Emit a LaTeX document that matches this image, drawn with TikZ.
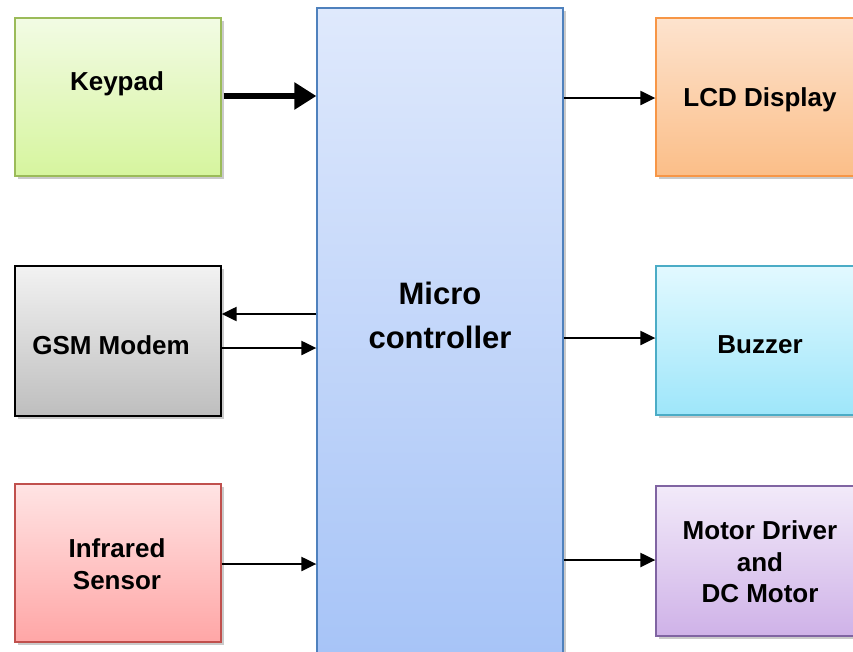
\documentclass[tikz,border=0pt]{standalone}
\usepackage{fontspec}
\setmainfont{Liberation Sans}
\usetikzlibrary{arrows.meta,shadows,calc}

\definecolor{kpTop}{HTML}{F2FBE4}
\definecolor{kpBot}{HTML}{D6F59E}
\definecolor{kpLine}{HTML}{9BBB59}
\definecolor{mcTop}{HTML}{DFE9FC}
\definecolor{mcBot}{HTML}{A4C2F7}
\definecolor{mcLine}{HTML}{4F81BD}
\definecolor{lcdTop}{HTML}{FDE3CE}
\definecolor{lcdBot}{HTML}{FBBE88}
\definecolor{lcdLine}{HTML}{F79646}
\definecolor{gsmTop}{HTML}{F2F2F2}
\definecolor{gsmBot}{HTML}{BEBEBE}
\definecolor{bzTop}{HTML}{E2F9FF}
\definecolor{bzBot}{HTML}{9EE6FA}
\definecolor{bzLine}{HTML}{4BACC6}
\definecolor{irTop}{HTML}{FFE4E4}
\definecolor{irBot}{HTML}{FFA6A6}
\definecolor{irLine}{HTML}{C0504D}
\definecolor{mdTop}{HTML}{F2EAF9}
\definecolor{mdBot}{HTML}{CFB2E8}
\definecolor{mdLine}{HTML}{8064A2}

\tikzset{
  block/.style={rectangle, inner sep=0pt, line width=1.3pt,
    drop shadow={shadow xshift=3pt, shadow yshift=-3pt, opacity=0.35, fill=black!60}},
  lbl/.style={font=\bfseries\fontsize{26}{31.5}\selectfont, align=center, text=black},
  sig/.style={line width=2.2pt, -{Triangle[length=15pt,width=14pt]}},
  bus/.style={line width=6.5pt, -{Triangle[length=22pt,width=26pt]}},
}

\begin{document}
\begin{tikzpicture}[x=1pt,y=-1pt]
\useasboundingbox (0,0) rectangle (853,651);
\clip (0,0) rectangle (853,651);

% central controller
\node[block, draw=mcLine, top color=mcTop, bottom color=mcBot,
      minimum width=246pt, minimum height=680pt] (mc) at (440,348) {};
\node[font=\bfseries\fontsize{31}{44}\selectfont, align=center] (mctxt) at (440,315) {Micro\\controller};

% input blocks
\node[block, draw=kpLine, top color=kpTop, bottom color=kpBot,
      minimum width=206pt, minimum height=158pt] (kp) at (118,97) {};
\node[lbl] (kptxt) at (117,84) {Keypad};

\node[block, draw=black, top color=gsmTop, bottom color=gsmBot,
      minimum width=206pt, minimum height=150pt] (gsm) at (118,341) {};
\node[lbl] (gsmtxt) at (111,345) {GSM Modem};

\node[block, draw=irLine, top color=irTop, bottom color=irBot,
      minimum width=206pt, minimum height=158pt] (ir) at (118,563) {};
\node[lbl] (irtxt) at (117,564) {Infrared\\Sensor};

% output blocks
\node[block, draw=lcdLine, top color=lcdTop, bottom color=lcdBot,
      minimum width=220pt, minimum height=158pt] (lcd) at (766,97) {};
\node[lbl] (lcdtxt) at (760,100) {LCD Display};

\node[block, draw=bzLine, top color=bzTop, bottom color=bzBot,
      minimum width=220pt, minimum height=149pt] (bz) at (766,340.5) {};
\node[lbl] (bztxt) at (760,345) {Buzzer};

\node[block, draw=mdLine, top color=mdTop, bottom color=mdBot,
      minimum width=220pt, minimum height=150pt] (md) at (766,561) {};
\node[lbl] (mdtxt) at (760,562) {Motor Driver\\and\\DC Motor};

% connections
\draw[bus] ([shift={(2pt,1pt)}]kp.east) -- ([yshift=1pt]kp.east -| mc.west);
\draw[sig] ([yshift=27pt]gsm.east -| mc.west) -- ([yshift=27pt]gsm.east);
\draw[sig] ([yshift=-7pt]gsm.east) -- ([yshift=-7pt]gsm.east -| mc.west);
\draw[sig] ([yshift=-1pt]ir.east) -- ([yshift=-1pt]ir.east -| mc.west);
\draw[sig] ([yshift=-1pt]lcd.west -| mc.east) -- ([yshift=-1pt]lcd.west);
\draw[sig] ([yshift=2.5pt]bz.west -| mc.east) -- ([yshift=2.5pt]bz.west);
\draw[sig] ([yshift=1pt]md.west -| mc.east) -- ([yshift=1pt]md.west);
\end{tikzpicture}
\end{document}
